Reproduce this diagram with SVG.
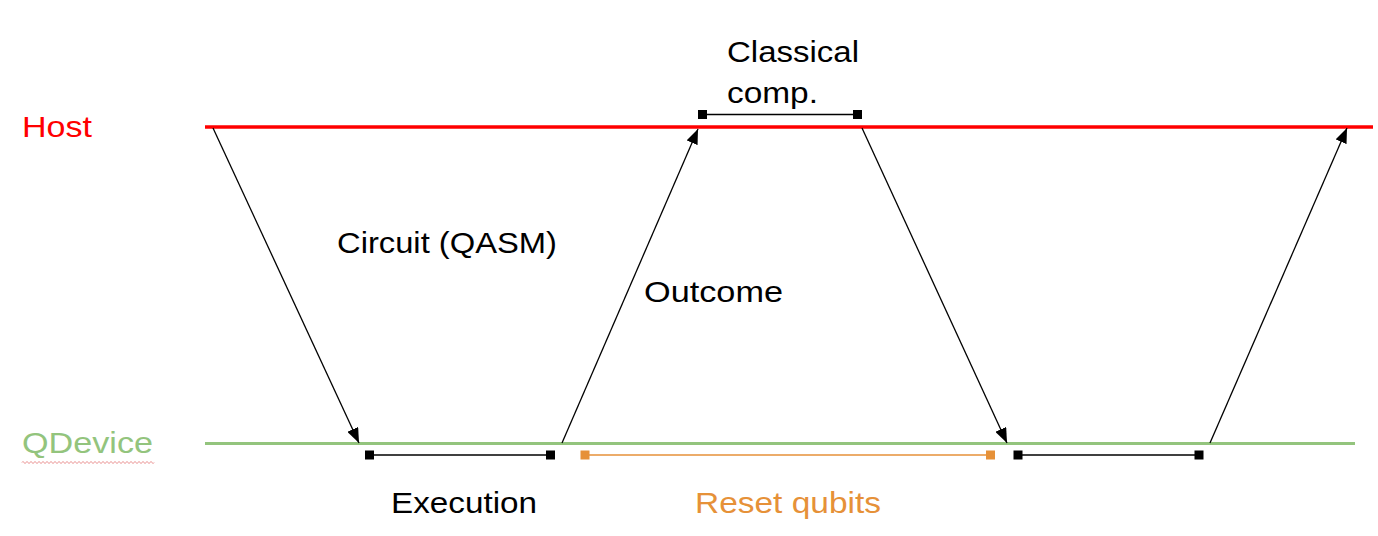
<svg xmlns="http://www.w3.org/2000/svg" width="1378" height="536" viewBox="0 0 1378 536">
  <style>
    text { font-family: "Liberation Sans", Arial, sans-serif; font-size: 30px; fill: #000; }
    .host { fill: #ff0000; }
    .qdev { fill: #93c47d; }
    .reset { fill: #e69138; }
    .conn { stroke: #000; stroke-width: 1.3; fill: none; }
    .span { stroke: #000; stroke-width: 1.3; }
    .spanO { stroke: #e69138; stroke-width: 1.3; }
  </style>
  <defs>
    <marker id="arrow" markerUnits="userSpaceOnUse" markerWidth="16" markerHeight="12" refX="15" refY="6" orient="auto">
      <path d="M0,0 L15,6 L0,12 Z" fill="#000"/>
    </marker>
  </defs>

  <g id="host">
    <line x1="205" y1="127" x2="1373" y2="127" stroke="#ff0000" stroke-width="3.5"/>
    <text class="host" x="22" y="137" textLength="70" lengthAdjust="spacingAndGlyphs">Host</text>
  </g>

  <g id="qdevice">
    <line x1="205" y1="443.5" x2="1355" y2="443.5" stroke="#93c47d" stroke-width="3"/>
    <text class="qdev" x="22" y="453" textLength="131" lengthAdjust="spacingAndGlyphs">QDevice</text>
    <path d="M22,462.5 q1,-2 2,0 t2,0 t2,0 t2,0 t2,0 t2,0 t2,0 t2,0 t2,0 t2,0 t2,0 t2,0 t2,0 t2,0 t2,0 t2,0 t2,0 t2,0 t2,0 t2,0 t2,0 t2,0 t2,0 t2,0 t2,0 t2,0 t2,0 t2,0 t2,0 t2,0 t2,0 t2,0 t2,0 t2,0 t2,0 t2,0 t2,0 t2,0 t2,0 t2,0 t2,0 t2,0 t2,0 t2,0 t2,0 t2,0 t2,0 t2,0 t2,0 t2,0 t2,0 t2,0 t2,0 t2,0 t2,0 t2,0 t2,0 t2,0 t2,0 t2,0 t2,0 t2,0 t2,0 t2,0 t2,0 t2,0" stroke="#e06666" stroke-width="0.8" fill="none"/>
  </g>

  <g id="connectors">
    <line class="conn" x1="213" y1="128" x2="359" y2="443" marker-end="url(#arrow)"/>
    <line class="conn" x1="562" y1="443" x2="698" y2="129" marker-end="url(#arrow)"/>
    <line class="conn" x1="862" y1="128" x2="1007" y2="443" marker-end="url(#arrow)"/>
    <line class="conn" x1="1210" y1="443" x2="1347" y2="128" marker-end="url(#arrow)"/>
  </g>

  <g id="label-circuit">
    <text x="337" y="253" textLength="220" lengthAdjust="spacingAndGlyphs">Circuit (QASM)</text>
  </g>
  <g id="label-outcome">
    <text x="644" y="302" textLength="139" lengthAdjust="spacingAndGlyphs">Outcome</text>
  </g>

  <g id="classical-comp">
    <line class="span" x1="702.5" y1="114.5" x2="857.5" y2="114.5"/>
    <rect x="698" y="110" width="9" height="9" fill="#000"/>
    <rect x="853" y="110" width="9" height="9" fill="#000"/>
    <text x="727" y="62" textLength="132" lengthAdjust="spacingAndGlyphs">Classical</text>
    <text x="727" y="103" textLength="91" lengthAdjust="spacingAndGlyphs">comp.</text>
  </g>

  <g id="execution">
    <line class="span" x1="369.5" y1="455" x2="550.5" y2="455"/>
    <rect x="365" y="450.5" width="9" height="9" fill="#000"/>
    <rect x="546" y="450.5" width="9" height="9" fill="#000"/>
    <text x="391" y="513" textLength="146" lengthAdjust="spacingAndGlyphs">Execution</text>
  </g>

  <g id="reset-qubits">
    <line class="spanO" x1="585" y1="455" x2="990.5" y2="455"/>
    <rect x="580.5" y="450.5" width="9" height="9" fill="#e69138"/>
    <rect x="986" y="450.5" width="9" height="9" fill="#e69138"/>
    <text class="reset" x="695" y="513" textLength="186" lengthAdjust="spacingAndGlyphs">Reset qubits</text>
  </g>

  <g id="execution-2">
    <line class="span" x1="1018" y1="455" x2="1199" y2="455"/>
    <rect x="1013.5" y="450.5" width="9" height="9" fill="#000"/>
    <rect x="1194.5" y="450.5" width="9" height="9" fill="#000"/>
  </g>
</svg>
